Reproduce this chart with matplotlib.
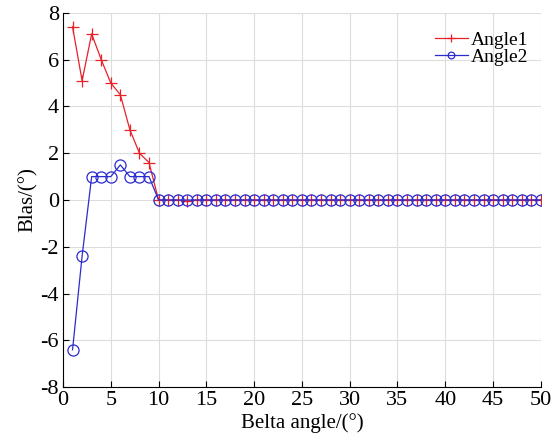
import matplotlib
matplotlib.use("Agg")
import matplotlib.pyplot as plt
import numpy as np

plt.rcParams['font.family'] = ['Liberation Serif', 'DejaVu Serif']
plt.rcParams['font.size'] = 13
plt.rcParams['axes.unicode_minus'] = False

# belta angle 1..50
x = np.arange(1, 51)
# first values, rest is zero
angle1_head = [7.4, 5.1, 7.1, 6.0, 5.0, 4.5, 3.0, 2.0, 1.6, 0.0, 0.0, 0.0, -0.05]
angle2_head = [-6.4, -2.4, 1.0, 1.0, 1.0, 1.5, 1.0, 1.0, 1.0, 0.0]
angle1 = angle1_head + [0.0] * (50 - len(angle1_head))
angle2 = angle2_head + [0.0] * (50 - len(angle2_head))

fig = plt.figure(figsize=(5.55, 4.42), dpi=100)
ax = fig.add_axes([0.1135, 0.124, 0.861, 0.847])

ax.plot(x, angle1, color='#e8202a', lw=0.9, marker='+', ms=9, mew=0.9, label='Angle1')
ax.plot(x, angle2, color='#2b2bd0', lw=0.9, marker='o', ms=8, mfc='none', mew=0.9, label='Angle2')

ax.set_xlim(0, 50)
ax.set_ylim(-8, 8)
ax.set_xticks(np.arange(0, 51, 5))
ax.set_yticks(np.arange(-8, 9, 2))
ax.grid(True, color='#dddddd', lw=0.8)
ax.set_axisbelow(True)
ax.spines['top'].set_visible(False)
ax.spines['right'].set_visible(False)
ax.tick_params(direction='in', length=4, labelsize=16, pad=3)
ax.set_xlabel('Belta angle/(°)', fontsize=15, labelpad=2)
ax.set_ylabel('Blas/(°)', fontsize=15, labelpad=2)

leg = ax.legend(loc='upper right', frameon=False, fontsize=14, handlelength=1.7,
                handletextpad=0.15, labelspacing=0.0, borderaxespad=0.15,
                borderpad=0.5, markerscale=0.6, bbox_to_anchor=(1.0, 0.985))

fig.savefig('out.png', dpi=100)
